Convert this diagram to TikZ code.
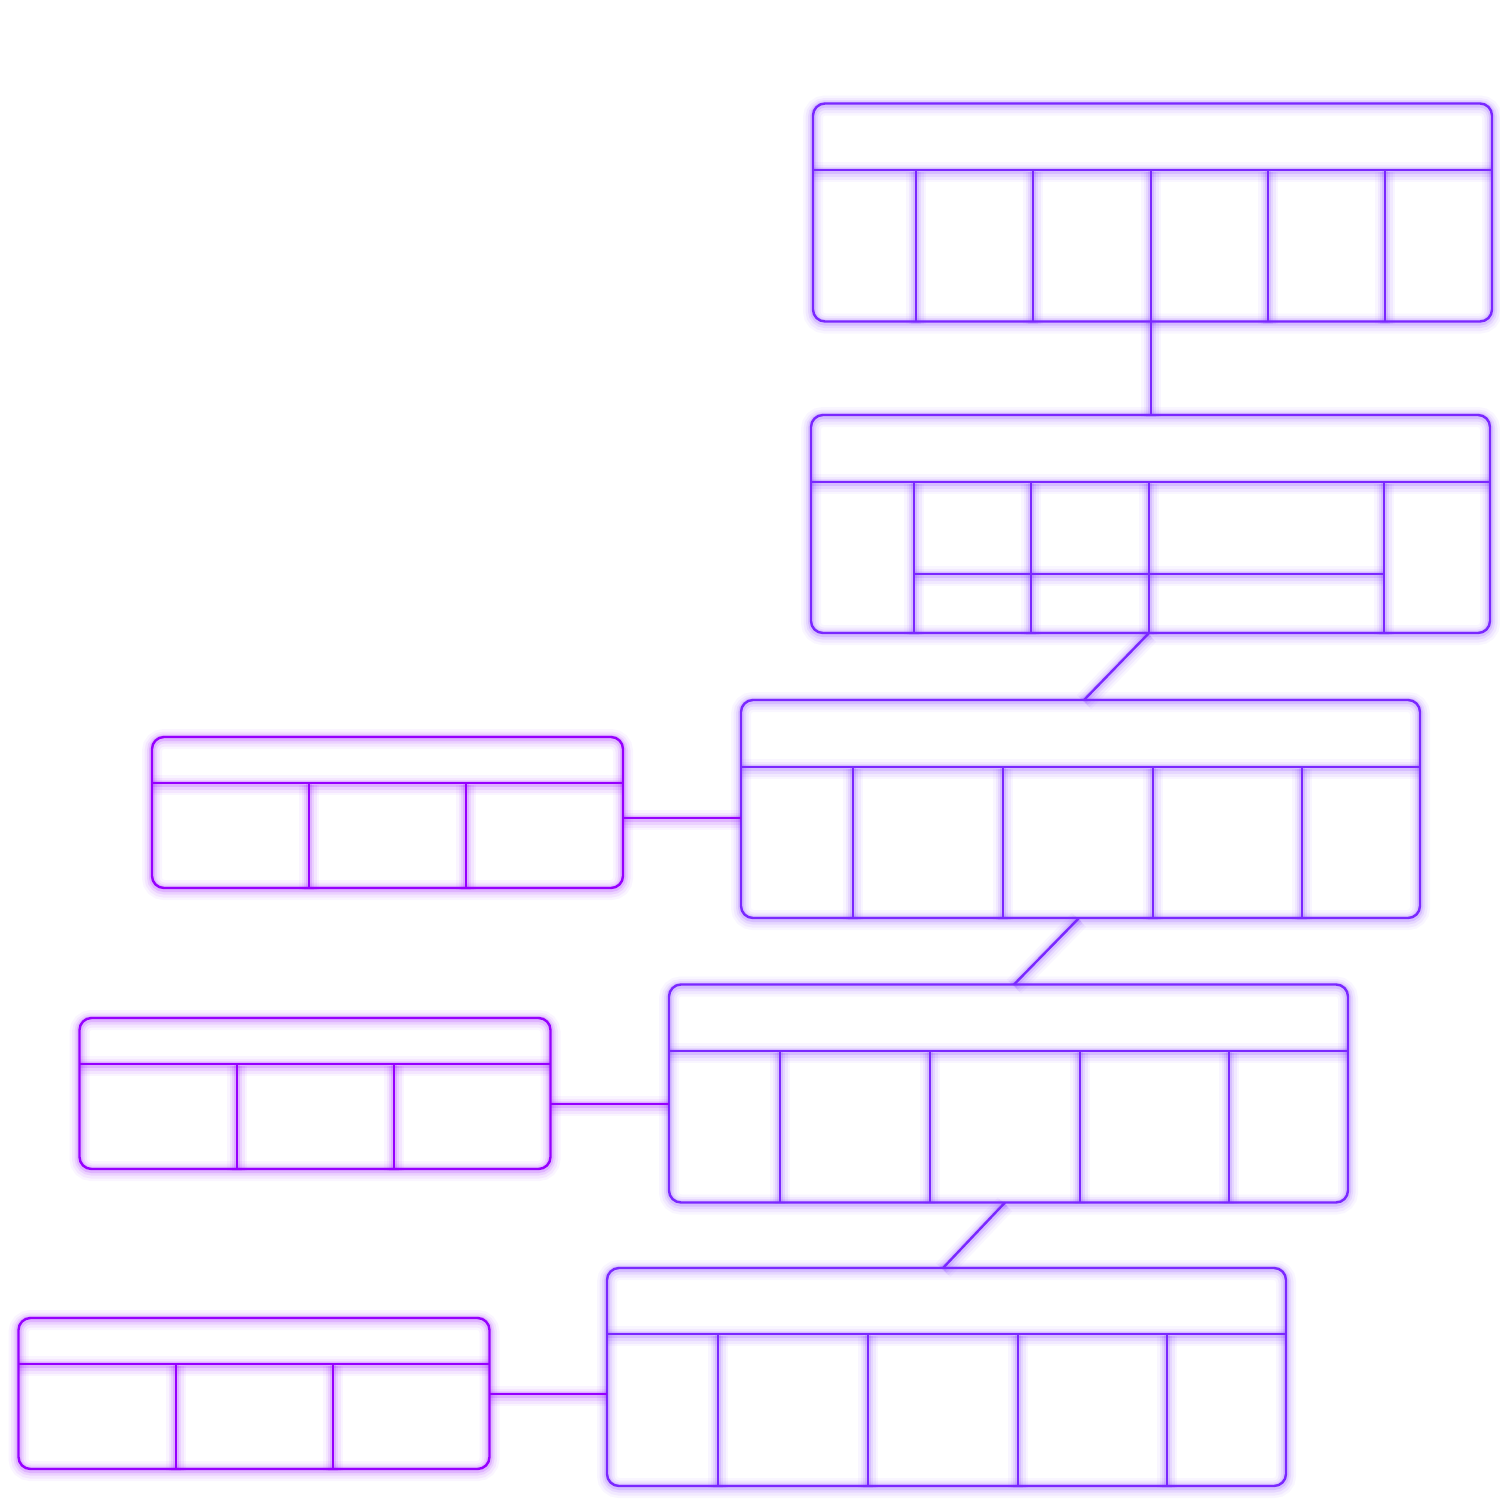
\documentclass[tikz,border=0pt]{standalone}
\usetikzlibrary{calc}
\definecolor{mainc}{RGB}{122,40,255}
\definecolor{leftc}{RGB}{150,0,255}
\begin{document}
\begin{tikzpicture}[x=1pt,y=-1pt,
  glow/.style={preaction={draw=#1,line width=20pt,opacity=0.04,transform canvas={yshift=-2pt}},
               preaction={draw=#1,line width=15pt,opacity=0.06,transform canvas={yshift=-2pt}},
               preaction={draw=#1,line width=10pt,opacity=0.09,transform canvas={yshift=-1.5pt}},
               preaction={draw=#1,line width=6pt,opacity=0.14,transform canvas={yshift=-1pt}}},
  mbox/.style={draw=mainc,line width=2.4pt,glow=mainc,rounded corners=12pt,inner sep=0pt,outer sep=0pt,
               minimum width=679pt,minimum height=218pt},
  lbox/.style={draw=leftc,line width=2.4pt,glow=leftc,rounded corners=12pt,inner sep=0pt,outer sep=0pt,
               minimum width=471pt,minimum height=151pt},
  mline/.style={draw=mainc,line width=2.4pt,glow=mainc},
  lline/.style={draw=leftc,line width=2.4pt,glow=leftc}]
\useasboundingbox[fill=white] (0,0) rectangle (1500,1500);

% main boxes
\node[mbox] (b1) at (1152.5,212.5) {};
\node[mbox] (b2) at (1150.5,524) {};
\node[mbox] (b3) at (1080.5,809) {};
\node[mbox] (b4) at (1008.5,1093.5) {};
\node[mbox] (b5) at (946.5,1377) {};
% left boxes
\node[lbox] (la) at (387.5,812.5) {};
\node[lbox] (lb) at (315,1093.5) {};
\node[lbox] (lc) at (254,1393.5) {};

% box 1 internals
\path[mline] (813,170) -- (1492,170);
\foreach \x in {916,1033,1151,1268,1385} \path[mline] (\x,170) -- (\x,322);
% box 2 internals
\path[mline] (811,482) -- (1490,482);
\foreach \x in {914,1031,1149,1384} \path[mline] (\x,482) -- (\x,633);
\path[mline] (914,574) -- (1384,574);
% box 3
\path[mline] (741,767) -- (1420,767);
\foreach \x in {853,1003,1153,1302} \path[mline] (\x,767) -- (\x,918);
% box 4
\path[mline] (669,1051) -- (1348,1051);
\foreach \x in {780,930,1080,1229} \path[mline] (\x,1051) -- (\x,1202);
% box 5
\path[mline] (607,1334) -- (1286,1334);
\foreach \x in {718,868,1018,1167} \path[mline] (\x,1334) -- (\x,1486);
% left A
\path[lline] (152,783) -- (623,783);
\foreach \x in {309,466} \path[lline] (\x,783) -- (\x,888);
% left B
\path[lline] (80,1064) -- (550,1064);
\foreach \x in {237,394} \path[lline] (\x,1064) -- (\x,1169);
% left C
\path[lline] (19,1364) -- (489,1364);
\foreach \x in {176,333} \path[lline] (\x,1364) -- (\x,1469);

% connectors
\coordinate (c12) at (1151,0);
\path[mline] (b1.south -| c12) -- (b2.north -| c12);
\coordinate (c2a) at (1149,0);
\coordinate (c3a) at (1084,0);
\path[mline] (b2.south -| c2a) -- (b3.north -| c3a);
\coordinate (c3b) at (1079,0);
\coordinate (c4a) at (1014,0);
\path[mline] (b3.south -| c3b) -- (b4.north -| c4a);
\coordinate (c4b) at (1005,0);
\coordinate (c5a) at (943,0);
\path[mline] (b4.south -| c4b) -- (b5.north -| c5a);
\coordinate (ya) at (0,818);
\path[lline] (la.east |- ya) -- (b3.west |- ya);
\coordinate (yb) at (0,1104);
\path[lline] (lb.east |- yb) -- (b4.west |- yb);
\coordinate (yc) at (0,1394);
\path[lline] (lc.east |- yc) -- (b5.west |- yc);
\end{tikzpicture}
\end{document}
